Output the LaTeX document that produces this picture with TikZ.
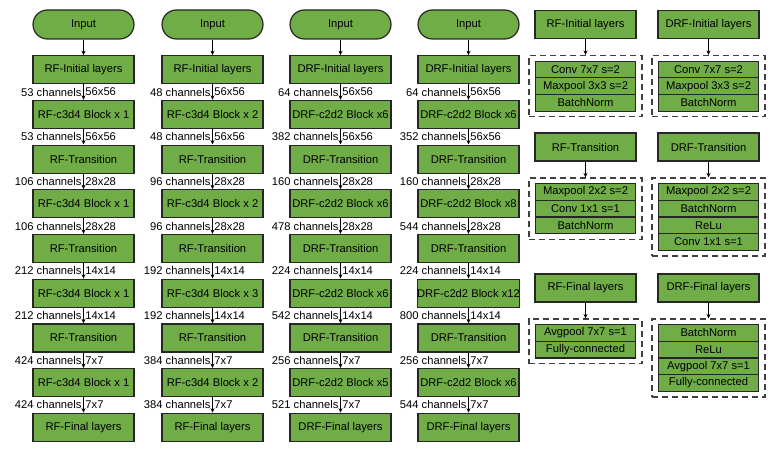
\documentclass[tikz,border=0pt]{standalone}
\usepackage{fontspec}
\setmainfont{Liberation Sans}
\usepackage{tikz}
\usetikzlibrary{arrows.meta, positioning, fit}
\definecolor{blockgreen}{RGB}{112,173,71}
\definecolor{blockedge}{RGB}{38,38,38}
\definecolor{dashgray}{RGB}{64,64,64}
\tikzset{
  layer/.style={rectangle, draw=blockedge, fill=blockgreen,
    minimum width=101pt, minimum height=28pt, inner sep=0pt,
    font=\fontsize{11.2}{13}\selectfont, line width=1.2pt},
  inputnode/.style={layer, minimum height=29pt, rounded corners=14.5pt},
  row/.style={layer, minimum width=100pt, minimum height=16.7pt, outer sep=0pt},
  group/.style={draw=dashgray, dash pattern=on 6pt off 4pt,
    line width=1.3pt, inner xsep=6.5pt, inner ysep=5.5pt},
  chan/.style={font=\fontsize{11.2}{13}\selectfont, inner sep=1.5pt},
  arrow/.style={-{Stealth[length=4.5pt, width=4pt]}, line width=0.9pt, color=black}
}

\begin{document}
\begin{tikzpicture}[x=1pt, y=1pt, node distance=15.5pt]
  \useasboundingbox (0,0) rectangle (775,-452);

  % Column 1 (RF)
  \node[inputnode] (ain) at (83.5,-24.5) {Input};
  \node[layer, below=of ain] (ainit) {RF-Initial layers};
  \node[layer, below=of ainit] (ab1) {RF-c3d4 Block x 1};
  \node[layer, below=of ab1] (at1) {RF-Transition};
  \node[layer, below=of at1] (ab2) {RF-c3d4 Block x 1};
  \node[layer, below=of ab2] (at2) {RF-Transition};
  \node[layer, below=of at2] (ab3) {RF-c3d4 Block x 1};
  \node[layer, below=of ab3] (at3) {RF-Transition};
  \node[layer, below=of at3] (ab4) {RF-c3d4 Block x 1};
  \node[layer, below=of ab4] (afin) {RF-Final layers};

  \draw[arrow] (ain) -- (ainit);
  \draw[arrow] (ainit) -- (ab1) node[chan, midway, left] {53 channels} node[chan, midway, right] {56x56};
  \draw[arrow] (ab1) -- (at1) node[chan, midway, left] {53 channels} node[chan, midway, right] {56x56};
  \draw[arrow] (at1) -- (ab2) node[chan, midway, left] {106 channels} node[chan, midway, right] {28x28};
  \draw[arrow] (ab2) -- (at2) node[chan, midway, left] {106 channels} node[chan, midway, right] {28x28};
  \draw[arrow] (at2) -- (ab3) node[chan, midway, left] {212 channels} node[chan, midway, right] {14x14};
  \draw[arrow] (ab3) -- (at3) node[chan, midway, left] {212 channels} node[chan, midway, right] {14x14};
  \draw[arrow] (at3) -- (ab4) node[chan, midway, left] {424 channels} node[chan, midway, right] {7x7};
  \draw[arrow] (ab4) -- (afin) node[chan, midway, left] {424 channels} node[chan, midway, right] {7x7};

  % Column 2 (RF)
  \node[inputnode] (bin) at (212.5,-24.5) {Input};
  \node[layer, below=of bin] (binit) {RF-Initial layers};
  \node[layer, below=of binit] (bb1) {RF-c3d4 Block x 2};
  \node[layer, below=of bb1] (bt1) {RF-Transition};
  \node[layer, below=of bt1] (bb2) {RF-c3d4 Block x 2};
  \node[layer, below=of bb2] (bt2) {RF-Transition};
  \node[layer, below=of bt2] (bb3) {RF-c3d4 Block x 3};
  \node[layer, below=of bb3] (bt3) {RF-Transition};
  \node[layer, below=of bt3] (bb4) {RF-c3d4 Block x 2};
  \node[layer, below=of bb4] (bfin) {RF-Final layers};

  \draw[arrow] (bin) -- (binit);
  \draw[arrow] (binit) -- (bb1) node[chan, midway, left] {48 channels} node[chan, midway, right] {56x56};
  \draw[arrow] (bb1) -- (bt1) node[chan, midway, left] {48 channels} node[chan, midway, right] {56x56};
  \draw[arrow] (bt1) -- (bb2) node[chan, midway, left] {96 channels} node[chan, midway, right] {28x28};
  \draw[arrow] (bb2) -- (bt2) node[chan, midway, left] {96 channels} node[chan, midway, right] {28x28};
  \draw[arrow] (bt2) -- (bb3) node[chan, midway, left] {192 channels} node[chan, midway, right] {14x14};
  \draw[arrow] (bb3) -- (bt3) node[chan, midway, left] {192 channels} node[chan, midway, right] {14x14};
  \draw[arrow] (bt3) -- (bb4) node[chan, midway, left] {384 channels} node[chan, midway, right] {7x7};
  \draw[arrow] (bb4) -- (bfin) node[chan, midway, left] {384 channels} node[chan, midway, right] {7x7};

  % Column 3 (DRF)
  \node[inputnode] (cin) at (340.5,-24.5) {Input};
  \node[layer, below=of cin] (cinit) {DRF-Initial layers};
  \node[layer, below=of cinit] (cb1) {DRF-c2d2 Block x6};
  \node[layer, below=of cb1] (ct1) {DRF-Transition};
  \node[layer, below=of ct1] (cb2) {DRF-c2d2 Block x6};
  \node[layer, below=of cb2] (ct2) {DRF-Transition};
  \node[layer, below=of ct2] (cb3) {DRF-c2d2 Block x6};
  \node[layer, below=of cb3] (ct3) {DRF-Transition};
  \node[layer, below=of ct3] (cb4) {DRF-c2d2 Block x5};
  \node[layer, below=of cb4] (cfin) {DRF-Final layers};

  \draw[arrow] (cin) -- (cinit);
  \draw[arrow] (cinit) -- (cb1) node[chan, midway, left] {64 channels} node[chan, midway, right] {56x56};
  \draw[arrow] (cb1) -- (ct1) node[chan, midway, left] {382 channels} node[chan, midway, right] {56x56};
  \draw[arrow] (ct1) -- (cb2) node[chan, midway, left] {160 channels} node[chan, midway, right] {28x28};
  \draw[arrow] (cb2) -- (ct2) node[chan, midway, left] {478 channels} node[chan, midway, right] {28x28};
  \draw[arrow] (ct2) -- (cb3) node[chan, midway, left] {224 channels} node[chan, midway, right] {14x14};
  \draw[arrow] (cb3) -- (ct3) node[chan, midway, left] {542 channels} node[chan, midway, right] {14x14};
  \draw[arrow] (ct3) -- (cb4) node[chan, midway, left] {256 channels} node[chan, midway, right] {7x7};
  \draw[arrow] (cb4) -- (cfin) node[chan, midway, left] {521 channels} node[chan, midway, right] {7x7};

  % Column 4 (DRF)
  \node[inputnode] (din) at (468.5,-24.5) {Input};
  \node[layer, below=of din] (dinit) {DRF-Initial layers};
  \node[layer, below=of dinit] (db1) {DRF-c2d2 Block x6};
  \node[layer, below=of db1] (dt1) {DRF-Transition};
  \node[layer, below=of dt1] (db2) {DRF-c2d2 Block x8};
  \node[layer, below=of db2] (dt2) {DRF-Transition};
  \node[layer, below=of dt2] (db3) {DRF-c2d2 Block x12};
  \node[layer, below=of db3] (dt3) {DRF-Transition};
  \node[layer, below=of dt3] (db4) {DRF-c2d2 Block x6};
  \node[layer, below=of db4] (dfin) {DRF-Final layers};

  \draw[arrow] (din) -- (dinit);
  \draw[arrow] (dinit) -- (db1) node[chan, midway, left] {64 channels} node[chan, midway, right] {56x56};
  \draw[arrow] (db1) -- (dt1) node[chan, midway, left] {352 channels} node[chan, midway, right] {56x56};
  \draw[arrow] (dt1) -- (db2) node[chan, midway, left] {160 channels} node[chan, midway, right] {28x28};
  \draw[arrow] (db2) -- (dt2) node[chan, midway, left] {544 channels} node[chan, midway, right] {28x28};
  \draw[arrow] (dt2) -- (db3) node[chan, midway, left] {224 channels} node[chan, midway, right] {14x14};
  \draw[arrow] (db3) -- (dt3) node[chan, midway, left] {800 channels} node[chan, midway, right] {14x14};
  \draw[arrow] (dt3) -- (db4) node[chan, midway, left] {256 channels} node[chan, midway, right] {7x7};
  \draw[arrow] (db4) -- (dfin) node[chan, midway, left] {544 channels} node[chan, midway, right] {7x7};

  % Legend: initial layers
  \node[layer] (rfinit) at (585.5,-24.5) {RF-Initial layers};
  \node[row, below=22pt of rfinit] (rfi1) {Conv 7x7 s=2};
  \node[row, below=0pt of rfi1] (rfi2) {Maxpool 3x3 s=2};
  \node[row, below=0pt of rfi2] (rfi3) {BatchNorm};
  \node[group, fit=(rfi1)(rfi3)] (rfig) {};
  \draw[arrow] (rfinit) -- (rfig);

  \node[layer] (drfinit) at (708.5,-24.5) {DRF-Initial layers};
  \node[row, below=22pt of drfinit] (drfi1) {Conv 7x7 s=2};
  \node[row, below=0pt of drfi1] (drfi2) {Maxpool 3x3 s=2};
  \node[row, below=0pt of drfi2] (drfi3) {BatchNorm};
  \node[group, fit=(drfi1)(drfi3)] (drfig) {};
  \draw[arrow] (drfinit) -- (drfig);

  % Legend: transitions
  \node[layer] (rftr) at (585.5,-147) {RF-Transition};
  \node[row, below=22pt of rftr] (rft1) {Maxpool 2x2 s=2};
  \node[row, below=0pt of rft1] (rft2) {Conv 1x1 s=1};
  \node[row, below=0pt of rft2] (rft3) {BatchNorm};
  \node[group, fit=(rft1)(rft3)] (rftg) {};
  \draw[arrow] (rftr) -- (rftg);

  \node[layer] (drftr) at (708.5,-147) {DRF-Transition};
  \node[row, below=22pt of drftr] (drft1) {Maxpool 2x2 s=2};
  \node[row, below=0pt of drft1] (drft2) {BatchNorm};
  \node[row, below=0pt of drft2] (drft3) {ReLu};
  \node[row, below=0pt of drft3] (drft4) {Conv 1x1 s=1};
  \node[group, fit=(drft1)(drft4)] (drftg) {};
  \draw[arrow] (drftr) -- (drftg);

  % Legend: final layers
  \node[layer] (rffin) at (585.5,-288) {RF-Final layers};
  \node[row, below=22pt of rffin] (rff1) {Avgpool 7x7 s=1};
  \node[row, below=0pt of rff1] (rff2) {Fully-connected};
  \node[group, fit=(rff1)(rff2)] (rffg) {};
  \draw[arrow] (rffin) -- (rffg);

  \node[layer] (drffin) at (708.5,-288) {DRF-Final layers};
  \node[row, below=22pt of drffin] (drff1) {BatchNorm};
  \node[row, below=0pt of drff1] (drff2) {ReLu};
  \node[row, below=0pt of drff2] (drff3) {Avgpool 7x7 s=1};
  \node[row, below=0pt of drff3] (drff4) {Fully-connected};
  \node[group, fit=(drff1)(drff4)] (drffg) {};
  \draw[arrow] (drffin) -- (drffg);
\end{tikzpicture}
\end{document}
